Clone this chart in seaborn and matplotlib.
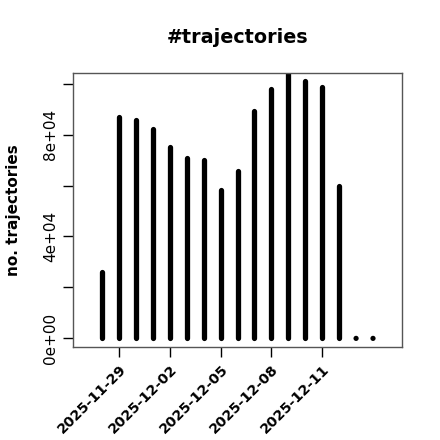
import pandas as pd
import numpy as np
import matplotlib
matplotlib.use("Agg")
import matplotlib.pyplot as plt
import seaborn as sns

# daily counts
dates = pd.date_range("2025-11-28", "2025-12-14", freq="D")
counts = [26000, 86800, 85700, 82100, 75000, 70700, 70000, 58300, 65700,
          89400, 97800, 106000, 101100, 98600, 59800, 0, 0]
tick_dates = ["2025-11-29", "2025-12-02", "2025-12-05", "2025-12-08", "2025-12-11"]
y_ticks = [0, 20000, 40000, 60000, 80000, 100000]
y_labels = ["0e+00", "", "4e+04", "", "8e+04", ""]

df = pd.DataFrame({"date": dates, "n": counts})
df["day"] = (df["date"] - df["date"].iloc[0]).dt.days
tick_pos = [(pd.Timestamp(d) - dates[0]).days for d in tick_dates]

sns.set_style("ticks")
plt.rcParams["font.family"] = ["DejaVu Sans"]
for k in ["text.color", "axes.labelcolor", "xtick.color", "ytick.color"]:
    plt.rcParams[k] = "black"

fig = plt.figure(figsize=(4.4, 4.4), dpi=100)
ax = fig.add_axes([0.1667, 0.2107, 0.7476, 0.6223])

ax.vlines(df["day"], 0, df["n"], color="black", linewidth=3.8, capstyle="round")
zeros = df[df["n"] == 0]
sns.scatterplot(data=zeros, x="day", y="n", ax=ax, color="black", s=14,
                edgecolor="none", legend=False, clip_on=False)

ax.set_xlim(-1.7, len(dates) - 1 + 1.73)
ax.set_ylim(-3500, 104000)

ax.set_xticks(tick_pos)
ax.set_xticklabels(tick_dates, rotation=45, ha="right", rotation_mode="anchor",
                   fontweight="bold", fontsize=10.2)
ax.set_yticks(y_ticks)
ax.set_yticklabels(y_labels, rotation=90, va="center", fontsize=11)
ax.tick_params(axis="both", length=7, width=1, color="black", pad=4)
ax.tick_params(axis="x", pad=4)

for s in ax.spines.values():
    s.set_visible(True)
    s.set_color("#555555")
    s.set_linewidth(1)

ax.set_xlabel("")
ax.set_ylabel("no. trajectories", fontweight="bold", fontsize=11, labelpad=16)
ax.set_title("#trajectories", fontweight="bold", fontsize=13.8, pad=22)

fig.savefig("out.png", dpi=100)
